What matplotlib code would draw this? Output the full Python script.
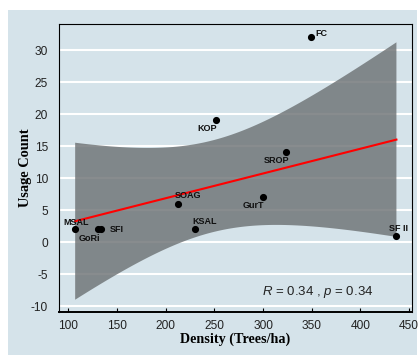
import numpy as np
import matplotlib
matplotlib.use("Agg")
import matplotlib.pyplot as plt
from matplotlib.patches import Rectangle

# Data
sites = ["MSAL", "GoRi", "SFI", "SOAG", "KSAL", "KOP", "GurT", "SROP", "FC", "SF II"]
density = [107, 130, 134, 213, 230, 252, 300, 324, 349, 437]
usage = [2, 2, 2, 6, 2, 19, 7, 14, 32, 1]
x_ticks = [100, 150, 200, 250, 300, 350, 400, 450]
y_ticks = [-10, -5, 0, 5, 10, 15, 20, 25, 30]
stat_text = "$R$ = 0.34 , $p$ = 0.34"

# label offsets in pixels (dx, dy)
label_offsets = {
    "MSAL": (1, 7), "GoRi": (-8, -9), "SFI": (15, 0), "SOAG": (10, 8),
    "KSAL": (10, 8), "KOP": (-9, -8), "GurT": (-10, -8), "SROP": (-10, -8),
    "FC": (11, 4), "SF II": (2, 7),
}

plt.rcParams['mathtext.fontset'] = 'custom'
plt.rcParams['mathtext.it'] = 'Liberation Sans:italic'
plt.rcParams['mathtext.rm'] = 'Liberation Sans'
plt.rcParams['axes.unicode_minus'] = False

bg = '#d5e3ea'
fig = plt.figure(figsize=(4.2, 3.56), dpi=100, facecolor='white')
fig.patches.append(Rectangle((8/420, 1 - 355/356), (417-8)/420, (355-10)/356,
                             transform=fig.transFigure, facecolor=bg, edgecolor='none', zorder=-10))

ax = fig.add_axes([59/420, 1 - 312/356, (412-59)/420, (312-24)/356])
ax.set_facecolor(bg)
ax.set_zorder(5)

x = np.array(density, dtype=float)
y = np.array(usage, dtype=float)
n = len(x)
slope, intercept = np.polyfit(x, y, 1)
xs = np.linspace(x.min(), x.max(), 200)
ys = intercept + slope * xs
resid = y - (intercept + slope * x)
s = np.sqrt(np.sum(resid**2) / (n - 2))
sxx = np.sum((x - x.mean())**2)
se = s * np.sqrt(1/n + (xs - x.mean())**2 / sxx)
t = 2.306  # t(0.975, 8)

ax.set_xlim(90.4, 453)
ax.set_ylim(-10.9, 34.06)
ax.set_yticks(y_ticks)
ax.set_xticks(x_ticks)
ax.grid(axis='y', color='white', linewidth=1.5, zorder=0)
ax.set_axisbelow(True)

ax.fill_between(xs, ys - t*se, ys + t*se, facecolor=(0.43, 0.45, 0.46), alpha=0.82,
                edgecolor='none', zorder=1)
ax.plot(xs, ys, color='#ff0000', linewidth=1.5, zorder=2)
ax.scatter(x, y, s=17, color='black', zorder=3)

for name, xi, yi in zip(sites, density, usage):
    dx, dy = label_offsets[name]
    ax.annotate(name, (xi, yi), xytext=(dx, dy), textcoords='offset pixels',
                ha='center', va='center', fontsize=6.5, fontweight='bold',
                family='Liberation Sans', color='#111111', zorder=4)

ax.text(318/420, 1 - 292/356, stat_text, transform=fig.transFigure, ha='center', va='center',
        fontsize=9.5, family='Liberation Sans', color='#222222', zorder=6)

for sp in ax.spines.values():
    sp.set_color('black')
    sp.set_linewidth(0.8)
ax.spines['bottom'].set_linewidth(1.4)

ax.tick_params(axis='x', direction='in', length=3, width=0.8, pad=6, labelsize=8.6, colors='black')
ax.tick_params(axis='y', length=0, pad=8, labelsize=8.6)
for lab in ax.get_xticklabels() + ax.get_yticklabels():
    lab.set_family('Liberation Sans')
    lab.set_color('#222222')

fig.text(235.5/420, 1 - 339/356, "Density (Trees/ha)", ha='center', va='center',
         fontsize=10.2, fontweight='bold', family='Liberation Serif')
fig.text(26/420, 1 - 168/356, "Usage Count", ha='center', va='center', rotation=90,
         fontsize=10.4, fontweight='bold', family='Liberation Serif')

fig.savefig('out.png', dpi=100, facecolor='white')
